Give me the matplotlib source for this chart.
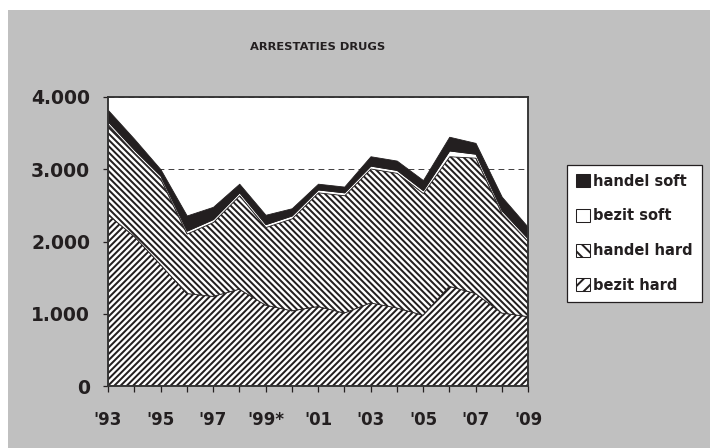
#! /usr/bin/env python3

import numpy as np
import matplotlib
matplotlib.use('Agg')
import matplotlib.pyplot as plt
from matplotlib.patches import Patch, Rectangle

years = np.arange(1993, 2010)
year_labels = ["'93", "", "'95", "", "'97", "", "'99*", "", "'01", "",
               "'03", "", "'05", "", "'07", "", "'09"]

# stacked from bottom to top
bezit_hard = [2370, 2070, 1680, 1280, 1240, 1340, 1120, 1040, 1100,
              1010, 1150, 1080, 980, 1380, 1280, 1010, 960]
handel_hard = [1250, 1160, 1190, 830, 1030, 1300, 1080, 1280, 1580,
               1630, 1860, 1870, 1690, 1800, 1880, 1380, 1040]
bezit_soft = [40, 40, 40, 40, 40, 40, 40, 40, 40,
              40, 40, 40, 40, 80, 55, 40, 40]
handel_soft = [160, 150, 90, 210, 170, 120, 130, 100, 80,
               80, 130, 130, 140, 190, 150, 190, 160]

series = ['bezit hard', 'handel hard', 'bezit soft', 'handel soft']
y_ticks = [0, 1000, 2000, 3000, 4000]
y_labels = ['0', '1.000', '2.000', '3.000', '4.000']

ink = '#231f20'
plt.rcParams['font.family'] = ['DejaVu Sans']
plt.rcParams['font.weight'] = 'bold'
plt.rcParams['hatch.linewidth'] = 1.9
plt.rcParams['hatch.color'] = ink

DPI = 75
fig = plt.figure(figsize=(710 / DPI, 448 / DPI), dpi=DPI, facecolor='white')
fig.add_artist(Rectangle((8 / 710, 0), 1 - 8 / 710, 438 / 448,
                         transform=fig.transFigure, facecolor='#c0c0c0',
                         edgecolor='none', zorder=-10))

ax = fig.add_axes([108 / 710, 1 - 386 / 448, 420 / 710, 289 / 448])
ax.set_facecolor('white')

HB = '////'
HH = '\\\\\\\\'
layers = [bezit_hard, handel_hard, bezit_soft, handel_soft]
fills = ['white', 'white', 'white', ink]
hatches = [HB, HH, None, None]
base = np.zeros(len(years))
for vals, fc, h in zip(layers, fills, hatches):
    top = base + np.array(vals)
    ax.fill_between(years, base, top, facecolor=fc, hatch=h,
                    edgecolor=ink, linewidth=0.8, zorder=2)
    base = top

ax.set_xlim(1993, 2009)
ax.set_ylim(0, 4000)
ax.set_yticks(y_ticks)
ax.set_yticklabels(y_labels)
ax.set_xticks(years)
ax.set_xticklabels(year_labels)

ax.grid(axis='y', color=ink, linestyle=(0, (7, 5)), linewidth=0.8, zorder=1)
ax.set_axisbelow(True)

for s in ax.spines.values():
    s.set_color('#333333')
    s.set_linewidth(1.8)
    s.set_zorder(3)

ax.tick_params(axis='y', direction='out', length=5, width=1.2, color=ink,
               labelsize=18, labelcolor=ink, pad=12)
ax.tick_params(axis='x', direction='out', length=6, width=1.2, color=ink,
               labelsize=16, labelcolor=ink, pad=18)

fig.text(318 / 710, 1 - 47 / 448, 'ARRESTATIES DRUGS', ha='center',
         va='center', fontsize=11, color=ink, fontweight='bold')

handles = [
    Patch(facecolor=ink, edgecolor=ink, label='handel soft'),
    Patch(facecolor='white', edgecolor=ink, label='bezit soft'),
    Patch(facecolor='white', edgecolor=ink, hatch='\\\\', label='handel hard'),
    Patch(facecolor='white', edgecolor=ink, hatch='//', label='bezit hard'),
]
leg = fig.legend(handles=handles, loc='upper left',
                 bbox_to_anchor=(567 / 710, 1 - 165 / 448),
                 frameon=True, fancybox=False, framealpha=1,
                 edgecolor=ink, fontsize=14, handlelength=1.0,
                 handleheight=1.0, handletextpad=0.2, labelspacing=1.35,
                 borderpad=0.6, borderaxespad=0)
leg.get_frame().set_linewidth(1.2)
for t in leg.get_texts():
    t.set_color(ink)

fig.savefig('out.png', dpi=DPI, facecolor=fig.get_facecolor())
